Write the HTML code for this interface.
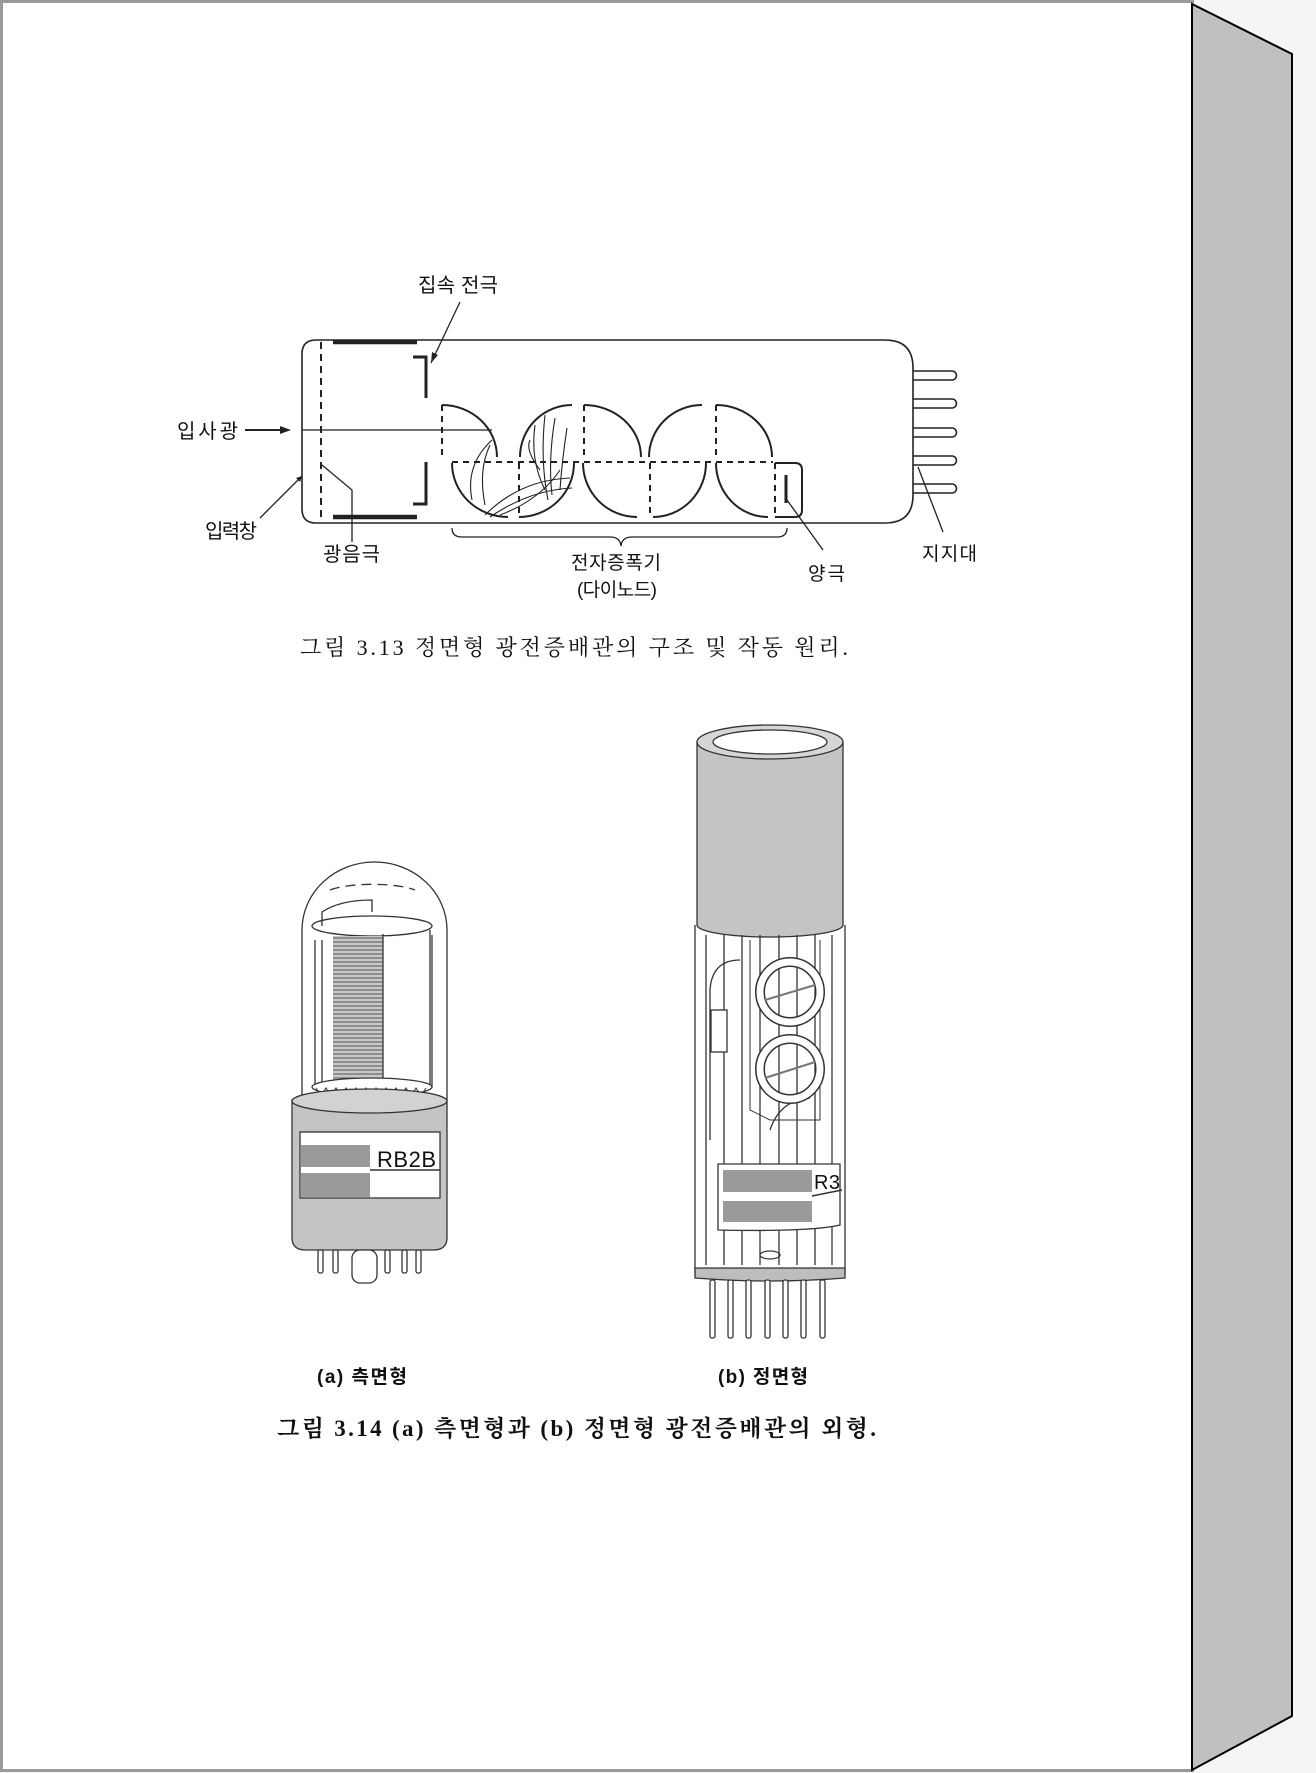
<!DOCTYPE html>
<html><head><meta charset="utf-8"><style>
html,body{margin:0;padding:0;background:#f5f5f5;}
svg{display:block;}
.s{font-family:"Liberation Sans","Noto Sans CJK KR",sans-serif;fill:#111;}
.r{font-family:"Liberation Serif","Noto Serif CJK SC","Noto Sans CJK KR",serif;fill:#111;}
</style></head><body>
<svg width="1316" height="1773" viewBox="0 0 1316 1773" xmlns="http://www.w3.org/2000/svg">
<defs>
<pattern id="stripe" width="6" height="4" patternUnits="userSpaceOnUse">
<rect width="6" height="4" fill="#c8c8c8"/><line x1="0" y1="2" x2="6" y2="2" stroke="#555" stroke-width="1"/>
</pattern>
</defs>
<rect x="0" y="0" width="1316" height="1773" fill="#f5f5f5"/>
<rect x="1.5" y="1.5" width="1191" height="1769" fill="#fff" stroke="#9a9a9a" stroke-width="3"/>
<polygon points="1192,4 1292,54 1292,1716 1192,1770" fill="#c0c0c0" stroke="#000" stroke-width="2"/>

<!-- ===== Figure 3.13 ===== -->
<g fill="none" stroke="#222" stroke-width="1.6">
<path d="M316 340 H885 Q913 340 913 368 V495 Q913 523 885 523 H316 Q302 523 302 509 V354 Q302 340 316 340 Z"/>
<line x1="321" y1="342" x2="321" y2="521" stroke-dasharray="7,5" stroke-width="2"/>
<line x1="333" y1="342" x2="417" y2="342" stroke-width="4.5"/>
<line x1="333" y1="517" x2="417" y2="517" stroke-width="4.5"/>
<path d="M413 357 H426 V398" stroke-width="3"/>
<path d="M426 462 V504 H413" stroke-width="3"/>
<line x1="302" y1="430" x2="492" y2="430" stroke-width="1.2"/>
<!-- pins -->
<g stroke-width="1.6">
<path d="M913 371 H952 A4.5 4.5 0 0 1 952 380 H913"/>
<path d="M913 399 H952 A4.5 4.5 0 0 1 952 408 H913"/>
<path d="M913 428 H952 A4.5 4.5 0 0 1 952 437 H913"/>
<path d="M913 456 H952 A4.5 4.5 0 0 1 952 465 H913"/>
<path d="M913 484 H952 A4.5 4.5 0 0 1 952 493 H913"/>
</g>
<!-- dynodes -->
<g stroke-width="2">
<path d="M442 405 A55 52 0 0 1 497 457"/>
<path d="M452 463 A56 54 0 0 0 508 517"/>
<path d="M519 517 A55 54 0 0 0 574 463"/>
<path d="M520 457 A52 52 0 0 1 572 405"/>
<path d="M584 405 A57 52 0 0 1 641 457"/>
<path d="M583 463 A54 54 0 0 0 637 517"/>
<path d="M653 517 A53 54 0 0 0 706 463"/>
<path d="M649 457 A53 52 0 0 1 702 405"/>
<path d="M716 405 A56 52 0 0 1 772 457"/>
<path d="M716 463 A52 54 0 0 0 768 517"/>
<path d="M775 463 H795 Q802 463 802 470 V510 Q802 517 795 517 H775"/>
</g>
<g stroke-width="2" stroke-dasharray="6,5">
<line x1="442" y1="405" x2="442" y2="457"/>
<line x1="519" y1="463" x2="519" y2="517"/>
<line x1="584" y1="405" x2="584" y2="457"/>
<line x1="650" y1="463" x2="650" y2="517"/>
<line x1="716" y1="405" x2="716" y2="457"/>
<line x1="775" y1="463" x2="775" y2="517"/>
<line x1="452" y1="462" x2="773" y2="462"/>
</g>
<line x1="786" y1="475" x2="786" y2="503" stroke-width="3"/>
<!-- electron paths -->
<g stroke-width="1.1">
<path d="M492 440 Q465 465 472 500"/>
<path d="M490 445 Q478 470 485 505"/>
<path d="M485 515 Q520 480 570 478"/>
<path d="M490 517 Q530 490 572 488"/>
<path d="M500 515 Q540 500 560 470"/>
<path d="M548 500 Q540 460 545 415"/>
<path d="M552 495 Q548 460 555 418"/>
<path d="M545 490 Q530 460 535 425"/>
<path d="M560 490 Q562 460 567 428"/>
<path d="M540 470 Q525 450 530 440"/>
</g>
<!-- leader lines -->
<g stroke-width="1.3">
<line x1="460" y1="302" x2="431" y2="363"/>
<line x1="260" y1="518" x2="302" y2="476"/>
<path d="M352 542 V490 L322 465"/>
<line x1="823" y1="550" x2="787" y2="500"/>
<line x1="943" y1="532" x2="918" y2="467"/>
<line x1="245" y1="430" x2="282" y2="430" stroke-width="2"/>
<path d="M452 528 Q452 537 462 537 H610 Q620 537 621 546 Q622 537 632 537 H777 Q787 537 787 528"/>
</g>
</g>
<polygon points="291,430 280,426 280,434" fill="#222"/>
<polygon points="431,363 432,352 438,355" fill="#222"/>
<polygon points="302,476 296,478 300,482" fill="#222"/>

<text class="s" x="418" y="292" font-size="20" textLength="80">집속 전극</text>
<text class="s" x="177" y="438" font-size="20" textLength="61">입사광</text>
<text class="s" x="205" y="538" font-size="20" textLength="52">입력창</text>
<text class="s" x="323" y="561" font-size="20" textLength="57">광음극</text>
<text class="s" x="571" y="569" font-size="19" textLength="90">전자증폭기</text>
<text class="s" x="577" y="596" font-size="19" textLength="80">(다이노드)</text>
<text class="s" x="808" y="580" font-size="19" textLength="37">양극</text>
<text class="s" x="922" y="560" font-size="19" textLength="55">지지대</text>
<text class="r" x="300" y="655" font-size="22" textLength="548">그림 3.13 정면형 광전증배관의 구조 및 작동 원리.</text>

<!-- ===== Tube (a) ===== -->
<g stroke="#333" stroke-width="1.3">
<path d="M302 1100 V930 A72.5 68 0 0 1 447 930 V1100" fill="#fff"/>
<path d="M330 890 A50 12 0 0 1 415 890" fill="none" stroke-dasharray="10,6"/>
<path d="M315 940 V1088 M432 935 V1088 M322 940 V1090" fill="none"/>
<ellipse cx="372" cy="926" rx="60" ry="10" fill="#fff"/>
<path d="M322 926 V912 Q340 900 372 900 V912" fill="none"/>
<rect x="333" y="936" width="50" height="144" fill="url(#stripe)" stroke="none"/>
<line x1="383" y1="934" x2="383" y2="1082"/>
<line x1="430" y1="930" x2="430" y2="1085"/>
<ellipse cx="372" cy="1087" rx="60" ry="9" fill="#fff"/>
<path d="M316 1088 l5 8 l5 -8 l5 8 l5 -8 l5 8 l5 -8 l5 8 l5 -8 l5 8 l5 -8 l5 8 l5 -8 l5 8 l5 -8 l5 8 l5 -8 l5 8 l5 -8 l5 8 l5 -8 l5 8 l5 -8" fill="none" stroke-width="1"/>
<path d="M292 1100 V1238 Q292 1250 306 1250 H433 Q447 1250 447 1238 V1100 Z" fill="#c4c4c4"/>
<ellipse cx="369.5" cy="1101" rx="77.5" ry="12" fill="#d2d2d2"/>
<rect x="300" y="1132" width="140" height="66" fill="#fff"/>
<rect x="301" y="1145" width="69" height="22" fill="#9a9a9a" stroke="none"/>
<rect x="301" y="1173" width="69" height="24" fill="#9a9a9a" stroke="none"/>
<line x1="370" y1="1170" x2="440" y2="1170" stroke-width="1.6"/>
<g fill="#fff">
<rect x="318" y="1250" width="5" height="23" rx="2"/>
<rect x="333" y="1250" width="5" height="23" rx="2"/>
<rect x="352" y="1250" width="25" height="33" rx="8"/>
<rect x="385" y="1250" width="5" height="23" rx="2"/>
<rect x="402" y="1250" width="5" height="23" rx="2"/>
<rect x="416" y="1250" width="5" height="23" rx="2"/>
</g>
</g>
<text class="s" x="377" y="1167" font-size="22" textLength="59">RB2B</text>

<!-- ===== Tube (b) ===== -->
<g stroke="#333" stroke-width="1.3">
<path d="M695 925 V1273 M845 925 V1273" fill="none"/>
<path d="M697 742 V925 A73 12 0 0 0 843 925 V742 Z" fill="#c4c4c4"/>
<ellipse cx="770" cy="742" rx="73" ry="17" fill="#d6d6d6"/>
<ellipse cx="770" cy="742" rx="57" ry="12" fill="#fff"/>
<g fill="none">
<path d="M706 935 V1265 M724 935 V1265 M742 935 V1265 M760 935 V1265 M779 935 V1265 M797 935 V1265 M815 935 V1265 M832 935 V1265"/>
<path d="M740 960 Q712 960 710 990 V1140"/>
<path d="M750 940 V1110 L770 1120 H820 V940" stroke-width="1"/>
<path d="M770 1130 Q780 1100 810 1098"/>
</g>
<rect x="711" y="1010" width="16" height="42" fill="#fff"/>
<circle cx="790" cy="992" r="30" fill="none" stroke="#333" stroke-width="10"/>
<circle cx="790" cy="992" r="30" fill="none" stroke="#fff" stroke-width="7"/>
<circle cx="790" cy="1069" r="30" fill="none" stroke="#333" stroke-width="10"/>
<circle cx="790" cy="1069" r="30" fill="none" stroke="#fff" stroke-width="7"/>
<path d="M765 1000 L815 985 M765 1078 L815 1062" fill="none" stroke="#777" stroke-width="2"/>
<path d="M718 1164 H840 V1225 Q810 1232 718 1230 Z" fill="#fff"/>
<rect x="723" y="1170" width="89" height="22" fill="#9a9a9a" stroke="none"/>
<rect x="723" y="1201" width="89" height="21" fill="#9a9a9a" stroke="none"/>
<line x1="812" y1="1196" x2="842" y2="1190" stroke-width="1.6"/>
<ellipse cx="770" cy="1255" rx="10" ry="4" fill="none"/>
<path d="M695 1268 H845 V1278 Q770 1284 695 1278 Z" fill="#bdbdbd"/>
<g fill="#fff">
<rect x="710" y="1280" width="5" height="58" rx="2"/>
<rect x="728" y="1280" width="5" height="58" rx="2"/>
<rect x="746" y="1280" width="5" height="58" rx="2"/>
<rect x="765" y="1280" width="5" height="58" rx="2"/>
<rect x="783" y="1280" width="5" height="58" rx="2"/>
<rect x="801" y="1280" width="5" height="58" rx="2"/>
<rect x="820" y="1280" width="5" height="58" rx="2"/>
</g>
</g>
<text class="s" x="814" y="1189" font-size="20" textLength="26">R3</text>

<text class="s" x="317" y="1383" font-size="19" font-weight="bold" textLength="90">(a) 측면형</text>
<text class="s" x="718" y="1383" font-size="19" font-weight="bold" textLength="90">(b) 정면형</text>
<text class="r" x="277" y="1436" font-size="23" font-weight="bold" textLength="599">그림 3.14 (a) 측면형과 (b) 정면형 광전증배관의 외형.</text>
</svg>
</body></html>
